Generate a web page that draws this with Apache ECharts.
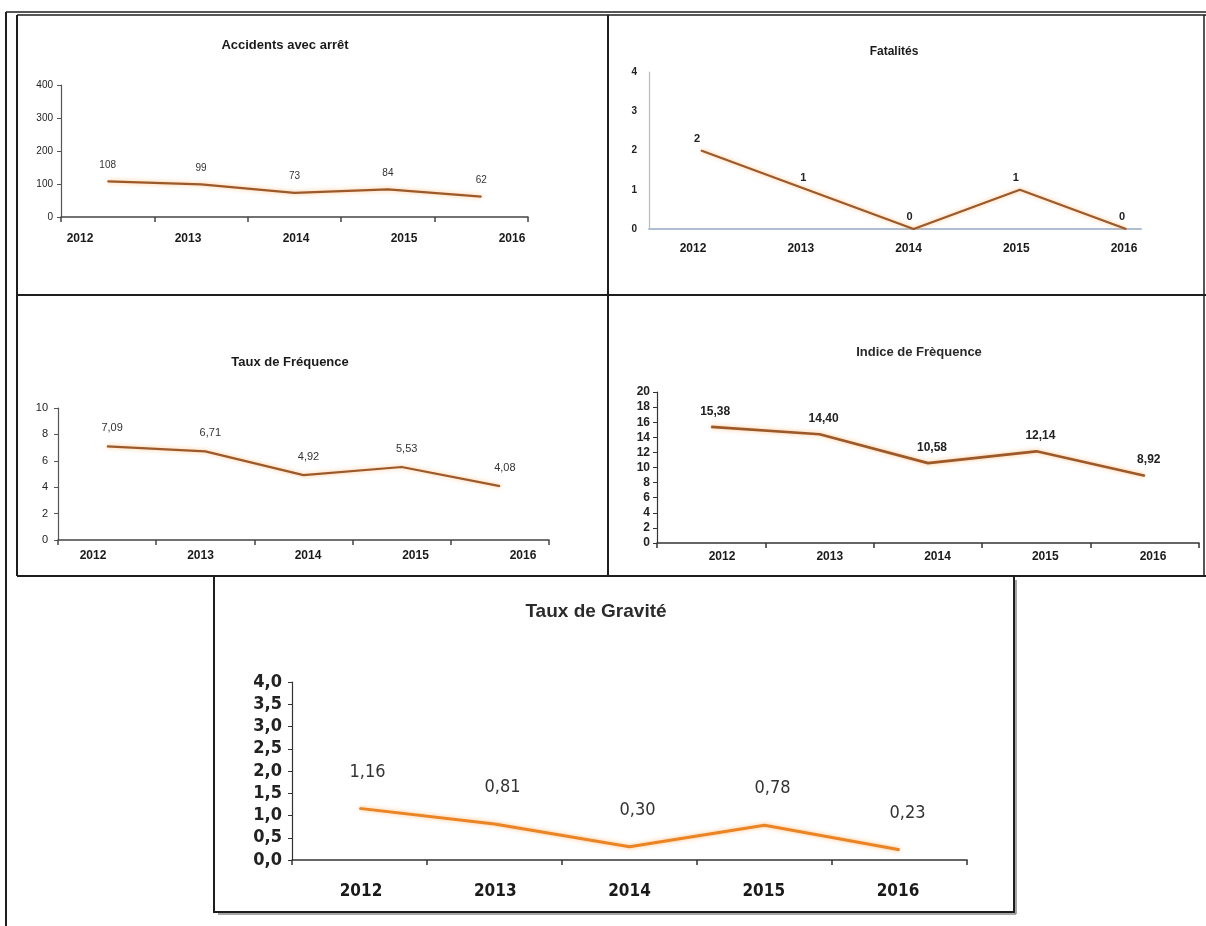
<!DOCTYPE html>
<html><head><meta charset="utf-8">
<script src="https://cdn.jsdelivr.net/npm/echarts@6/dist/echarts.min.js"></script>
<style>html,body{margin:0;padding:0;background:#fff}#c{width:1206px;height:926px}</style>
</head><body><div id="c"></div>
<script>
// ---- data ----
const years = ['2012', '2013', '2014', '2015', '2016'];
const accidents = [108, 99, 73, 84, 62];
const fatalites = [2, 1, 0, 1, 0];
const tauxFrequence = [7.09, 6.71, 4.92, 5.53, 4.08];
const indiceFrequence = [15.38, 14.40, 10.58, 12.14, 8.92];
const tauxGravite = [1.16, 0.81, 0.30, 0.78, 0.23];
const titles = ['Accidents avec arrêt', 'Fatalités', 'Taux de Fréquence', 'Indice de Frèquence', 'Taux de Gravité'];
const yMaxes = [400, 4, 10, 20, 4];
const yIntervals = [100, 1, 2, 2, 0.5];

const comma2 = v => v.toFixed(2).replace('.', ',');
const comma1 = v => v.toFixed(1).replace('.', ',');
const F = 'Liberation Sans, Arial, sans-serif';
const FN = 'Liberation Sans Narrow, DejaVu Sans Condensed, Arial Narrow, sans-serif';

const grid = [], xAxis = [], yAxis = [], series = [], title = [];

function panel(o) {
  const gi = grid.length;
  grid.push({ left: o.g[0], top: o.g[1], width: o.g[2], height: o.g[3] });
  if (o.valueX) {
    xAxis.push({ gridIndex: gi, type: 'value', min: o.valueX[0], max: o.valueX[1],
      axisLine: { show: true, onZero: false, lineStyle: { color: o.xColor, width: o.xWidth } },
      axisTick: { show: false }, axisLabel: { show: false }, splitLine: { show: false } });
  } else {
    xAxis.push({ gridIndex: gi, type: 'category', data: years, boundaryGap: true,
      axisLine: { show: true, onZero: false, lineStyle: { color: o.xColor, width: o.xWidth } },
      axisTick: { show: o.xTicks, length: 5, inside: false, lineStyle: { color: o.xColor, width: 1.5 } },
      axisLabel: { show: false }, splitLine: { show: false } });
  }
  yAxis.push({ gridIndex: gi, type: 'value', min: 0, max: o.yMax, interval: o.yInt,
    axisLine: { show: true, onZero: false, lineStyle: { color: o.yColor, width: 1.2 } },
    axisTick: { show: o.yTicks, length: 4, lineStyle: { color: o.yColor } },
    splitLine: { show: false },
    axisLabel: { margin: o.yMargin, color: '#222', fontFamily: o.yFont || F, fontSize: o.yFs,
      fontWeight: o.yBold ? 'bold' : 'normal', formatter: o.yFmt || (v => String(v)) } });
  series.push({
    type: 'line', xAxisIndex: gi, yAxisIndex: gi,
    data: o.valueX ? o.data.map((v, i) => [i, v]) : o.data,
    symbol: 'circle', symbolSize: 1, itemStyle: { color: o.color },
    lineStyle: { color: o.color, width: o.lw, shadowColor: 'rgba(255,150,50,0.6)', shadowBlur: 4 },
    label: { show: true, position: 'top', distance: o.ld, offset: [o.ldx, 0],
      color: o.lColor || '#222', fontFamily: o.lFont || F, fontSize: o.lFs, fontWeight: o.lBold ? 'bold' : 'normal',
      formatter: p => o.lFmt(o.valueX ? p.value[1] : p.value) },
    silent: true, animation: false
  });
  // label-only grid for year labels
  const li = grid.length;
  grid.push({ left: o.lab[0], top: o.lab[2] - 1, width: o.lab[1] - o.lab[0], height: 1 });
  xAxis.push({ gridIndex: li, type: 'category', data: years, boundaryGap: false,
    axisLine: { show: false }, axisTick: { show: false }, splitLine: { show: false },
    axisLabel: { interval: 0, margin: 0, verticalAlign: 'middle', color: '#1a1a1a',
      fontFamily: o.xFont || F, fontSize: o.xFs, fontWeight: 'bold' } });
  yAxis.push({ gridIndex: li, type: 'value', show: false });
  title.push({ text: o.title, left: o.t[0], top: o.t[1], textAlign: 'center', textVerticalAlign: 'middle',
    textStyle: { fontFamily: o.tFont || F, fontSize: o.tFs, fontWeight: 'bold', color: o.tColor || '#1a1a1a' } });
}

const BROWN = '#9C5A2A';

panel({ title: titles[0], t: [280, 40], tFs: 13,
  g: [61, 85, 467, 132], yMax: yMaxes[0], yInt: yIntervals[0], yMargin: 8, yFs: 10, yTicks: true,
  xColor: '#444', xWidth: 1.5, yColor: '#555', xTicks: true,
  data: accidents, color: BROWN, lw: 2.2, ld: 11, ldx: 0, lFs: 10, lFmt: v => String(v), lColor: '#333',
  lab: [80, 512, 239], xFs: 12 });

panel({ title: titles[1], t: [889, 47], tFs: 12,
  g: [649, 72, 492, 157], yMax: yMaxes[1], yInt: yIntervals[1], yMargin: 12, yFs: 10, yBold: true, yTicks: false,
  xColor: '#aebfd2', xWidth: 2, yColor: '#bbbbbb', xTicks: false, valueX: [-0.49, 4.14],
  data: fatalites, color: BROWN, lw: 2.2, ld: 6, ldx: -4, lFs: 11, lBold: true, lFmt: v => String(v),
  lab: [693, 1124, 249], xFs: 12 });

panel({ title: titles[2], t: [285, 357], tFs: 13,
  g: [58, 408, 491, 132], yMax: yMaxes[2], yInt: yIntervals[2], yMargin: 10, yFs: 11, yTicks: true,
  xColor: '#444', xWidth: 1.5, yColor: '#555', xTicks: true,
  data: tauxFrequence, color: BROWN, lw: 2.2, ld: 12, ldx: 5, lFs: 11, lFmt: comma2, lColor: '#333',
  lab: [93, 523, 556], xFs: 12 });

panel({ title: titles[3], t: [914, 347], tFs: 13, tColor: '#2a2a2a',
  g: [657, 392, 542, 151], yMax: yMaxes[3], yInt: yIntervals[3], yMargin: 7, yFs: 12, yBold: true, yTicks: true,
  xColor: '#333', xWidth: 1.5, yColor: '#333', xTicks: true,
  data: indiceFrequence, color: BROWN, lw: 2.6, ld: 9, ldx: 4, lFs: 12, lBold: true, lFmt: comma2,
  lab: [722, 1153, 557], xFs: 12 });

panel({ title: titles[4], t: [591, 607], tFs: 19, tColor: '#2b2b2b',
  g: [292, 682, 675, 178], yMax: yMaxes[4], yInt: yIntervals[4], yMargin: 10, yFs: 18, yBold: true, yTicks: true,
  yFont: FN, yFmt: comma1,
  xColor: '#333', xWidth: 1.5, yColor: '#333', xTicks: true,
  data: tauxGravite, color: '#EA8424', lw: 3, ld: 27, ldx: 8, lFs: 18, lFont: FN, lFmt: comma2, lColor: '#333',
  lab: [361, 898, 892], xFs: 17, xFont: FN });

// frames (decoration)
const L = (x1, y1, x2, y2, w, c) => ({ type: 'line', shape: { x1, y1, x2, y2 }, style: { stroke: c || '#1e1e1e', lineWidth: w || 2 }, silent: true });
const graphic = [
  L(6, 12, 1206, 12, 1.5), L(17, 15, 1206, 15, 1.5),
  L(6, 12, 6, 926, 2), L(17, 15, 17, 576, 2),
  L(17, 295, 1206, 295, 2), L(608, 15, 608, 576, 2),
  L(17, 576, 1206, 576, 2), L(1204, 15, 1204, 576, 1.5),
  { type: 'rect', shape: { x: 214, y: 576, width: 800, height: 336 }, style: { fill: 'none', stroke: '#1e1e1e', lineWidth: 2 }, silent: true },
  L(1016, 580, 1016, 914, 1.5, '#888'), L(218, 914, 1016, 914, 1.5, '#888')
];

const chart = echarts.init(document.getElementById('c'), null, { renderer: 'canvas' });
chart.setOption({ animation: false, backgroundColor: '#fff', title, grid, xAxis, yAxis, series, graphic });
</script>
</body></html>
